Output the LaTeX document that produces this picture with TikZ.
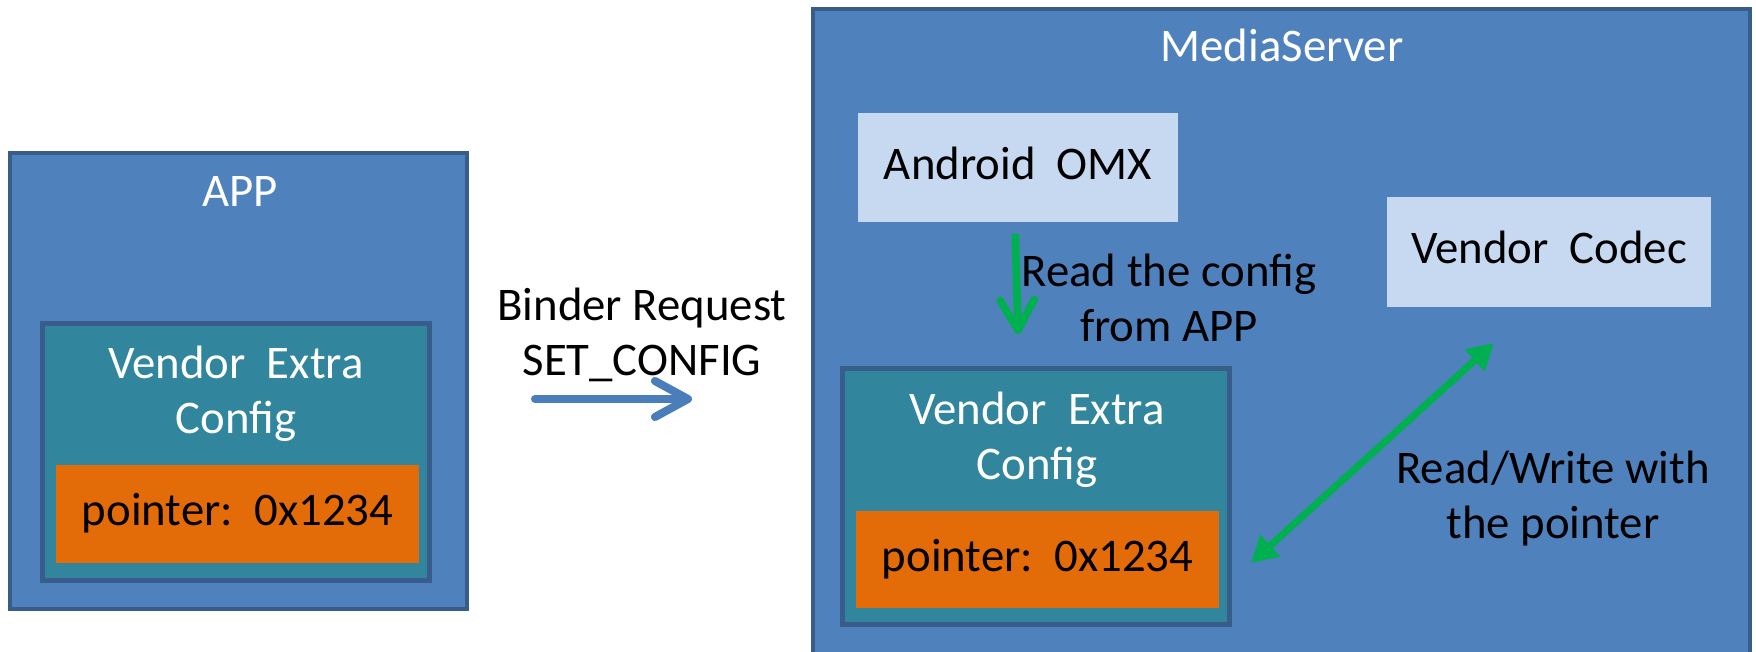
\documentclass[tikz,border=0pt]{standalone}
\usepackage{fontspec}
\setmainfont{Carlito}
\usepackage{xcolor}
\usetikzlibrary{positioning,arrows.meta}
\definecolor{hostblue}{HTML}{4F81BD}
\definecolor{edge}{HTML}{385D8A}
\definecolor{cfgteal}{HTML}{31859C}
\definecolor{ptrorange}{HTML}{E36C09}
\definecolor{partblue}{HTML}{C6D9F1}
\definecolor{flowgreen}{HTML}{00B050}
\definecolor{callblue}{HTML}{4A7EBB}

\begin{document}
\begin{tikzpicture}[
	  x=0.01cm, y=-0.01cm,
	  font=\fontsize{13.3pt}{15.6pt}\selectfont,
	  proc/.style={draw=edge, line width=1.2pt, fill=hostblue, inner sep=0pt},
	  cfg/.style={draw=edge, line width=1.4pt, fill=cfgteal, inner sep=0pt, minimum width=3.86cm, minimum height=2.56cm},
	  ptr/.style={fill=ptrorange, inner sep=0pt, minimum width=3.63cm, minimum height=0.97cm, text height=0.68em, text depth=0pt},
	  part/.style={fill=partblue, inner sep=0pt, minimum height=1.09cm, text height=0.68em, text depth=0pt},
	  title/.style={text=white, align=center, inner sep=0pt},
	  note/.style={align=center, inner sep=0pt},
	  call/.style={draw=callblue, line width=2.3pt, line cap=round, -{Straight Barb[length=3.3mm, width=3.6mm, round]}},
	  flow/.style={draw=flowgreen, line width=2.2pt, -{Straight Barb[length=3mm, width=3.4mm, round]}},
	  share/.style={draw=flowgreen, line width=2pt, {Triangle[length=2.6mm, width=2.8mm]}-{Triangle[length=2.6mm, width=2.8mm]}}
	  ]
	  \path[use as bounding box, clip] (0,0) rectangle (1756,652);
	  % APP process
	  \node[proc, minimum width=4.57cm, minimum height=4.56cm] (app) at (238.5,381) {};
	  \node[title, anchor=base] (applbl) at (240,207) {APP};
	  \node[cfg] (appcfg) at (236,452) {};
	  \node[title] (appcfglbl) at (236,394) {Vendor~~Extra\\Config};
	  \node[ptr] (appptr) at (237.5,514) {pointer:~~0x1234};
	  % Binder call
	  \node[note] (binder) at (642,335) {Binder Request\\SET\_CONFIG};
	  \coordinate (callfrom) at (535,399);
	  \coordinate (callto) at (692,399);
	  % MediaServer process
	  \node[proc, minimum width=9.37cm, minimum height=7cm] (ms) at (1281.5,359) {};
	  \node[title, anchor=base] (mslbl) at (1282,62) {MediaServer};
	  \node[part, minimum width=3.2cm] (omx) at (1018,167.5) {Android~~OMX};
	  \node[part, minimum width=3.24cm, minimum height=1.1cm] (codec) at (1549,252) {Vendor~~Codec};
	  \node[cfg] (mscfg) at (1036,496.5) {};
	  \node[title] (mscfglbl) at (1037,439.5) {Vendor~~Extra\\Config};
	  \node[ptr] (msptr) at (1037.5,559.5) {pointer:~~0x1234};
	  \node[note] (readlbl) at (1169,297.5) {Read the config\\from APP};
	  \node[note] (rwlbl) at (1553,498.5) {Read/Write with\\the pointer};
	  \coordinate (rwa) at (1251,563);
	  \coordinate (rwb) at (1494,343);

	  % edges
	  \draw[call] (callfrom) -- (callto);
	  \draw[flow, shorten <=0.11cm, shorten >=0.32cm] ([xshift=-0.03cm]omx.south) -- ([xshift=-0.17cm]mscfg.north);
	  \draw[share] (rwa) -- (rwb);
	  \end{tikzpicture}
\end{document}
